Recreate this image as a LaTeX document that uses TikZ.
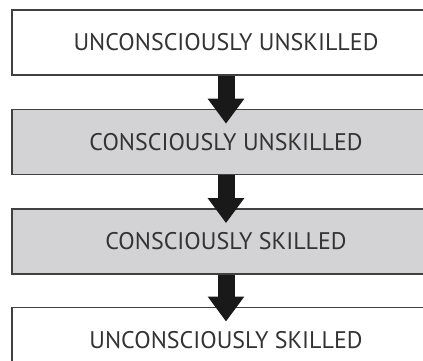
\documentclass[tikz,border=0pt]{standalone}
\usepackage{fontspec}
\setmainfont{PT Sans}
\usetikzlibrary{arrows.meta,positioning}

\definecolor{stagegray}{RGB}{211,211,213}
\tikzset{
	stage/.style={draw=black!75,line width=1.4pt,minimum width=428pt,minimum height=65pt,inner sep=0pt,
		font=\fontsize{24}{28}\selectfont,text=black!80},
	aware/.style={stage,fill=stagegray},
	godown/.style={line width=17pt,draw=black!90,-{Triangle[width=35pt,length=25pt]},shorten >=-15pt}
}

\begin{document}
\begin{tikzpicture}[node distance=33pt]
	\clip (0,0) rectangle (423pt,-360pt);
	\node[stage] (UU) at (226pt,-42.5pt) {UNCONSCIOUSLY UNSKILLED};
	\node[aware,below=of UU] (CU) {CONSCIOUSLY UNSKILLED};
	\node[aware,below=of CU] (CS) {CONSCIOUSLY SKILLED};
	\node[stage,below=32pt of CS] (US) {UNCONSCIOUSLY SKILLED};
	\draw[godown] (UU.south) -- (CU.north);
	\draw[godown] (CU.south) -- (CS.north);
	\draw[godown] (CS.south) -- (US.north);
\end{tikzpicture}
\end{document}
